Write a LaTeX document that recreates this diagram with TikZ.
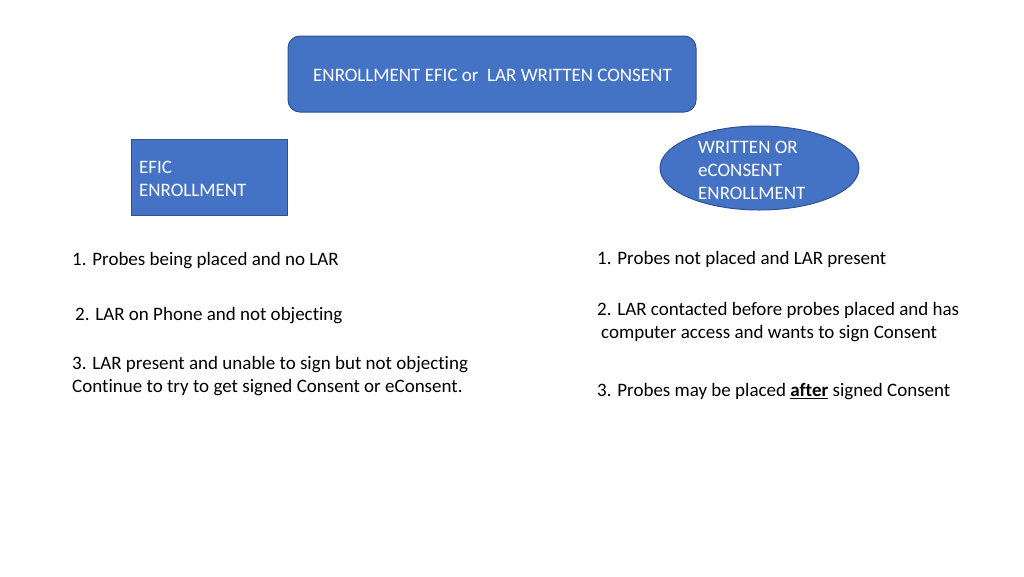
\documentclass[tikz,border=0pt]{standalone}
\usepackage{fontspec}
\setmainfont{Carlito}[Ligatures=NoCommon]
\usetikzlibrary{shapes.geometric}
\definecolor{boxfill}{HTML}{4472C4}
\definecolor{boxline}{HTML}{2F528F}
\tikzset{
  bluebox/.style={fill=boxfill, draw=boxline, line width=1pt, text=white},
  txt/.style={inner sep=0pt, anchor=west, align=left, font=\fontsize{19}{23}\selectfont},
}
\begin{document}
\begin{tikzpicture}[x=1pt,y=-1pt]
\useasboundingbox (0,0) rectangle (1024,576);
\fill[white] (0,0) rectangle (1024,576);
\draw[bluebox, rounded corners=12pt] (288,36) rectangle (696,112);
\node[txt, text=white] (top) at (313,75.5) {ENROLLMENT EFIC or\ \ LAR WRITTEN CONSENT};
\draw[bluebox] (131,139) rectangle (287,215);
\node[txt, text=white] (efic) at (139,179) {EFIC\\ENROLLMENT};
\draw[bluebox] (759.5,168) ellipse [x radius=99.5, y radius=42];
\node[txt, text=white] (wr) at (698,170.5) {WRITTEN OR\\eCONSENT\\ENROLLMENT};
\node[txt] (l1) at (72,261) {1. Probes being placed and no LAR};
\node[txt] (l2) at (75,316) {2. LAR on Phone and not objecting};
\node[txt] (l3) at (72,376.5) {3. LAR present and unable to sign but not objecting\\Continue to try to get signed Consent or eConsent.};
\node[txt] (r1) at (597,259) {1. Probes not placed and LAR present};
\node[txt] (r2) at (597,322.5) {2. LAR contacted before probes placed and has\\\hspace*{4pt}computer access and wants to sign Consent};
\node[txt] (r3) at (597,392) {3. Probes may be placed \underline{\textbf{after}} signed Consent};
\end{tikzpicture}
\end{document}
